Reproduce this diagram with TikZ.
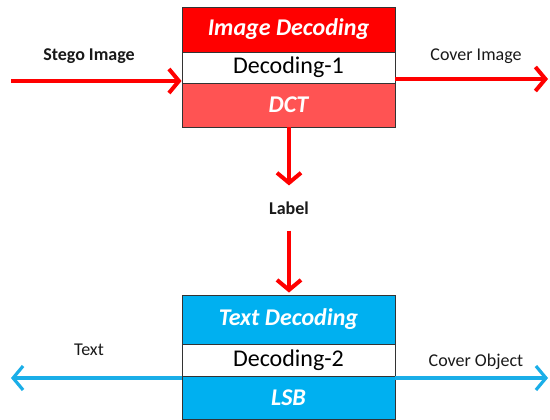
\documentclass[tikz,border=0pt]{standalone}
\usepackage{fontspec}
\setmainfont{Carlito}
\usetikzlibrary{arrows.meta}
\definecolor{bred}{HTML}{FF0000}
\definecolor{lred}{HTML}{FF5353}
\definecolor{bblue}{HTML}{00B0F0}
\definecolor{ablue}{HTML}{1AAEE8}
\tikzset{
  sec/.style={draw=black!80, line width=0.9pt, minimum width=213pt, inner sep=0pt, anchor=center},
  hdr/.style={sec, text=white, font=\fontsize{24}{28}\selectfont\bfseries\itshape},
  mid/.style={sec, fill=white, text=black, font=\fontsize{24}{28}\selectfont},
  lbl/.style={font=\fontsize{18}{21}\selectfont, text=black!90, inner sep=0pt},
  blbl/.style={lbl, font=\fontsize{18}{21}\selectfont\bfseries},
  redarrow/.style={draw=bred, line width=4pt, -{Straight Barb[length=10pt,width=24pt,line width=4pt]}},
  bluearrow/.style={draw=ablue, line width=3.2pt, -{Straight Barb[length=10pt,width=24pt,line width=3.2pt]}}
}
\begin{document}
\begin{tikzpicture}[x=1pt,y=-1pt]
\useasboundingbox (0,0) rectangle (550,420);
% top box
\node[hdr, fill=bred, minimum height=45pt] (t1) at (288.5,29.5) {Image Decoding};
\node[mid, minimum height=31pt] (t2) at (288.5,67.5) {Decoding-1};
\node[hdr, fill=lred, minimum height=44pt] (t3) at (288.5,105) {DCT};
% bottom box
\node[hdr, fill=bblue, minimum height=49pt] (b1) at (288.5,319.5) {Text Decoding};
\node[mid, minimum height=32pt] (b2) at (288.5,360) {Decoding-2};
\node[hdr, fill=bblue, minimum height=43pt] (b3) at (288.5,397.5) {LSB};
% labels
\node[blbl] (stego) at (89,56) {Stego Image};
\node[lbl] (cimg) at (476,56) {Cover Image};
\node[blbl] (label) at (289,208) {Label};
\node[lbl] (txt) at (89,350) {Text};
\node[lbl] (cobj) at (476,362) {Cover Object};
% coordinates
\coordinate (inL) at (11,81);
\coordinate (outR) at (548,79);
\coordinate (tL) at (11,378);
\coordinate (tR) at (548,378);
% arrows
\draw[redarrow] (inL) -- (inL -| t2.west);
\draw[redarrow] (outR -| t2.east) -- (outR);
\draw[redarrow] (t3.south -| label) -- ([yshift=16pt]label.north);
\draw[redarrow] ([yshift=-16pt]label.south) -- ([yshift=2pt]b1.north -| label);
\draw[bluearrow] (tL -| b3.west) -- (tL);
\draw[bluearrow] (tR -| b3.east) -- (tR);
\end{tikzpicture}
\end{document}
